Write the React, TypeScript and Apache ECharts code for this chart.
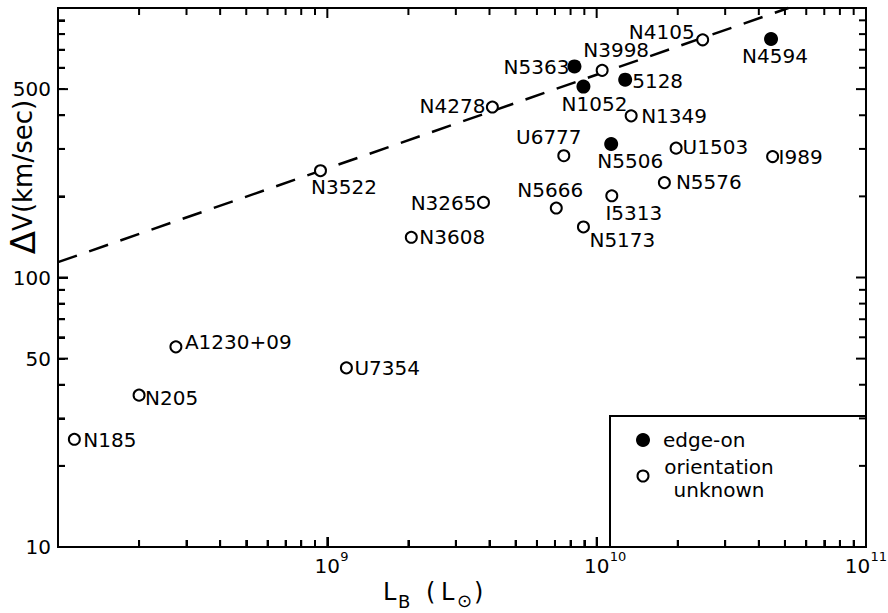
import React, { useEffect, useRef } from "react";
import * as echarts from "echarts";

// ---- data ----
const edgeOnNames = ["N5363", "N1052", "5128", "N5506", "N4594"];
const edgeOnL = [8.27e9, 8.93e9, 1.276e10, 1.132e10, 4.44e10];
const edgeOnV = [607, 511, 542, 313, 767];

const unknownNames = [
  "N4105", "N3998", "N4278", "N1349", "U6777", "U1503", "I989", "N5576", "N5666",
  "I5313", "N5173", "N3522", "N3265", "N3608", "A1230+09", "U7354", "N205", "N185",
];
const unknownL = [
  2.475e10, 1.048e10, 4.1e9, 1.343e10, 7.55e9, 1.972e10, 4.5e10, 1.784e10, 7.08e9,
  1.138e10, 8.93e9, 9.43e8, 3.8e9, 2.05e9, 2.74e8, 1.177e9, 2.0e8, 1.15e8,
];
const unknownV = [
  762, 587, 429, 398, 283, 302, 281, 225, 181,
  201, 154, 249, 190, 141, 55.3, 46.2, 36.6, 25.1,
];

// dashed relation
const fitL = [1e8, 5.15e10];
const fitV = [114, 1000];

// axes
const X_MIN = 1e8, X_MAX = 1e11, Y_MIN = 10, Y_MAX = 1000;
const xLabelValues = [1e9, 1e10, 1e11];
const xLabelExponents = ["9", "10", "11"];
const yLabelValues = [10, 50, 100, 500];
const yLabelTexts = ["10", "50", "100", "500"];
const tickMultipliers = [1, 2, 3, 4, 5, 6, 7, 8, 9];
const xDecades = [1e8, 1e9, 1e10];
const yDecades = [10, 100];
const xMajorTicks = [1e8, 1e9, 1e10, 1e11];

// label placement (style): [align, dx, dy]
const labelPlacement: Record<string, [string, number, number]> = {
  N5363: ["right", -5, 1],
  N1052: ["center", 11, 17.5],
  "5128": ["left", 7, 1.5],
  N5506: ["center", 19, 17],
  N4594: ["center", 4, 17],
  N4105: ["right", -8, -7.5],
  N3998: ["center", 14, -20],
  N4278: ["right", -7, -1],
  N1349: ["left", 10, 0.5],
  U6777: ["center", -15, -18.5],
  U1503: ["left", 6.5, -1],
  I989: ["left", 6, 0],
  N5576: ["left", 11.5, -1],
  N5666: ["center", -6, -18],
  I5313: ["center", 22, 17],
  N5173: ["left", 6, 13.5],
  N3522: ["center", 23.5, 16.5],
  N3265: ["right", -7, 0.5],
  N3608: ["left", 8, 0],
  "A1230+09": ["left", 9, -5],
  U7354: ["left", 8, 0],
  N205: ["left", 6, 3],
  N185: ["left", 9, 1],
};

const FONT = "DejaVu Sans";
const W = 888;
const H = 613;

function pointData(names: string[], L: number[], V: number[]) {
  return names.map((n, i) => {
    const p = labelPlacement[n] || ["left", 8, 0];
    return {
      name: n,
      value: [L[i], V[i]],
      label: {
        show: true,
        position: "inside",
        align: p[0],
        verticalAlign: "middle",
        offset: [p[1], p[2]],
        formatter: n,
        color: "#000",
        opacity: 1,
        fontFamily: FONT,
        fontSize: 20,
      },
    };
  });
}

const near = (a: number, b: number) => Math.abs(a - b) / b < 1e-9;

export default function App() {
  const ref = useRef<HTMLDivElement>(null);
  useEffect(() => {
    document.body.style.margin = "0";
    const chart = echarts.init(ref.current!, null, { renderer: "svg" });
    const textStyle = (text: string, size: number, align = "left") => ({
      text, fill: "#000", fontFamily: FONT, fontSize: size, align, verticalAlign: "middle",
    });
    const tickLine = { color: "#000", width: 2 };

    const baseGraphic: any[] = [
      // legend box (left and top edges; right and bottom are the frame)
      { type: "polyline", shape: { points: [[610, 547], [610, 416], [866, 416]] }, style: { stroke: "#000", lineWidth: 2 } },
      { type: "circle", shape: { cx: 643, cy: 440, r: 7 }, style: { fill: "#000" } },
      { type: "text", x: 663, y: 440, style: textStyle("edge-on", 20) },
      { type: "circle", shape: { cx: 643, cy: 476, r: 5.5 }, style: { fill: "#fff", stroke: "#000", lineWidth: 2 } },
      { type: "text", x: 719, y: 467, style: textStyle("orientation", 20, "center") },
      { type: "text", x: 719, y: 490, style: textStyle("unknown", 20, "center") },
      // y title
      {
        type: "text", x: 23, y: 177, rotation: Math.PI / 2,
        style: {
          text: "{d|Δ}{v|V(km/sec)}",
          align: "center", verticalAlign: "middle", fill: "#000",
          rich: {
            d: { fontFamily: FONT, fontSize: 34 },
            v: { fontFamily: FONT, fontSize: 26 },
          },
        },
      },
      // x title
      { type: "text", x: 383, y: 592, style: textStyle("L", 24) },
      { type: "text", x: 398, y: 601, style: textStyle("B", 18) },
      { type: "text", x: 426, y: 592, style: textStyle("(", 24) },
      { type: "text", x: 441, y: 592, style: textStyle("L", 24) },
      { type: "text", x: 457, y: 600, style: textStyle("⊙", 18) },
      { type: "text", x: 474, y: 592, style: textStyle(")", 24) },
    ];

    const option: any = {
      animation: false,
      backgroundColor: "#ffffff",
      grid: { left: 58, right: 22, top: 8, bottom: 66, show: true, borderColor: "#000", borderWidth: 2, backgroundColor: "transparent" },
      xAxis: {
        type: "log", logBase: 10, min: X_MIN, max: X_MAX,
        axisLine: { show: false },
        axisTick: { show: true, inside: true, length: 10, lineStyle: tickLine },
        minorTick: { show: true, splitNumber: 9, length: 7, lineStyle: tickLine },
        axisLabel: { show: false }, splitLine: { show: false },
      },
      yAxis: {
        type: "log", logBase: 10, min: Y_MIN, max: Y_MAX,
        axisLine: { show: true, lineStyle: tickLine },
        axisTick: { show: true, inside: true, length: 10, lineStyle: tickLine },
        minorTick: { show: true, splitNumber: 9, length: 7, lineStyle: tickLine },
        axisLabel: { show: false }, splitLine: { show: false },
      },
      series: [
        {
          name: "orientation unknown",
          type: "scatter",
          data: pointData(unknownNames, unknownL, unknownV),
          symbol: "circle",
          symbolSize: 11,
          itemStyle: { color: "#fff", borderColor: "#000", borderWidth: 2, opacity: 1 },
        },
        {
          name: "edge-on",
          type: "scatter",
          data: pointData(edgeOnNames, edgeOnL, edgeOnV),
          symbol: "circle",
          symbolSize: 14,
          itemStyle: { color: "#000", opacity: 1 },
        },
      ],
      graphic: baseGraphic,
    };
    chart.setOption(option);

    // relation line, ticks on all four sides and tick labels, positioned through the chart's own axes
    const px = (x: number, y: number) => chart.convertToPixel({ gridIndex: 0 }, [x, y]) as number[];
    const [gx0, gy1] = px(X_MIN, Y_MIN);
    const [gx1, gy0] = px(X_MAX, Y_MAX);
    const extra: any[] = [];
    const fitPts = fitL.map((l, i) => px(l, fitV[i]));
    extra.push({
      type: "polyline",
      shape: { points: fitPts },
      style: { stroke: "#000", lineWidth: 2.5, lineDash: [20, 13], fill: null },
    });
    const xTicks: number[] = [];
    xDecades.forEach((d) => tickMultipliers.forEach((m) => xTicks.push(m * d)));
    xTicks.push(X_MAX);
    const yTicks: number[] = [];
    yDecades.forEach((d) => tickMultipliers.forEach((m) => yTicks.push(m * d)));
    yTicks.push(Y_MAX);
    xTicks.forEach((v) => {
      const x = px(v, Y_MIN)[0];
      const len = xMajorTicks.some((t) => near(v, t)) ? 10 : 7;
      extra.push({ type: "line", shape: { x1: x, y1: gy1, x2: x, y2: gy1 - len }, style: { stroke: "#000", lineWidth: 2 } });
      extra.push({ type: "line", shape: { x1: x, y1: gy0, x2: x, y2: gy0 + len }, style: { stroke: "#000", lineWidth: 2 } });
    });
    yTicks.forEach((v) => {
      const y = px(X_MIN, v)[1];
      const len = yLabelValues.some((t) => near(v, t)) || near(v, Y_MAX) ? 10 : 7;
      extra.push({ type: "line", shape: { x1: gx0, y1: y, x2: gx0 + len, y2: y }, style: { stroke: "#000", lineWidth: 2 } });
      extra.push({ type: "line", shape: { x1: gx1, y1: y, x2: gx1 - len, y2: y }, style: { stroke: "#000", lineWidth: 2 } });
    });
    xLabelValues.forEach((v, i) => {
      let x = px(v, Y_MIN)[0];
      const sup = xLabelExponents[i];
      const supW = sup.length * 0.636 * 13;
      if (x + 13 + supW > W - 1) x = W - 1 - 13 - supW;
      extra.push({ type: "text", x: x, y: gy1 + 19, style: textStyle("10", 20, "center") });
      extra.push({ type: "text", x: x + 13, y: gy1 + 9, style: textStyle(sup, 13, "left") });
    });
    yLabelValues.forEach((v, i) => {
      const y = px(X_MIN, v)[1];
      extra.push({ type: "text", x: gx0 - 7, y: y, style: textStyle(yLabelTexts[i], 20, "right") });
    });
    chart.setOption({ graphic: baseGraphic.concat(extra) });
    return () => chart.dispose();
  }, []);
  return <div ref={ref} style={{ position: "fixed", left: 0, top: 0, width: W, height: H }} />;
}
